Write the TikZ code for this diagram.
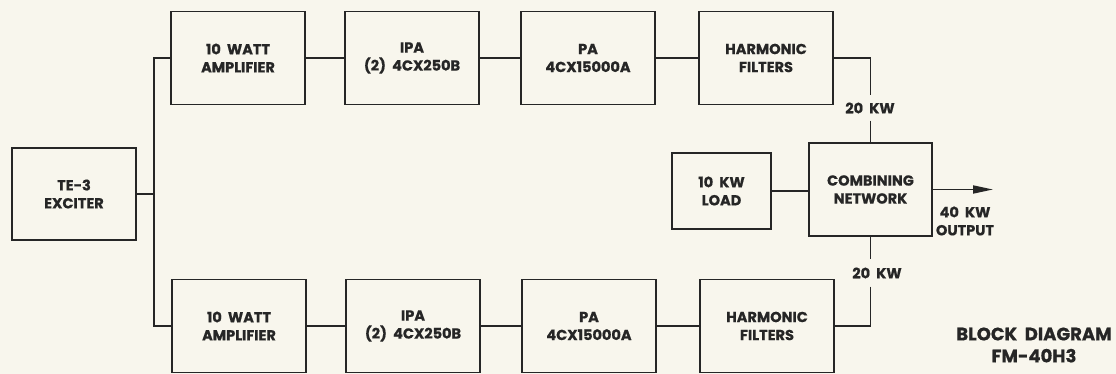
\documentclass[tikz,border=0pt]{standalone}
\usepackage{fontspec}
\setmainfont{Poppins}[BoldFeatures={FakeBold=0.8}]
\usetikzlibrary{arrows.meta,positioning}
\definecolor{paper}{RGB}{248,246,237}
\definecolor{ink}{RGB}{38,38,38}

\begin{document}
\begin{tikzpicture}[x=1pt,y=-1pt,>={Triangle[length=20pt,width=8pt]},
  blk/.style={draw=ink,line width=1.8pt,minimum width=134pt,minimum height=93pt,inner sep=0pt,align=center,text=ink,font=\fontsize{14.5}{18}\selectfont\bfseries},
  lbl/.style={text=ink,align=center,font=\fontsize{14.5}{18}\selectfont\bfseries},
  wire/.style={draw=ink,line width=1.8pt}]
  \fill[paper] (0,0) rectangle (1116,374);
  \useasboundingbox (0,0) rectangle (1116,374);
  % exciter and the two chains
  \node[blk,minimum width=124pt,minimum height=92pt] (exc) at (74,194) {TE-3\\EXCITER};
  \foreach \n/\t/\x in {amp/{10\ \ WATT\\AMPLIFIER}/238,ipa/{IPA\\(2)\ \ 4CX250B}/412,pa/{PA\\4CX15000A}/588,hf/{HARMONIC\\FILTERS}/766} {
    \node[blk] (\n1) at (\x,58) {\t}; \node[blk] (\n2) at (\x+1,326) {\t}; }
  \foreach \a/\b in {amp/ipa,ipa/pa,pa/hf} \foreach \r in {1,2} \draw[wire] (\a\r) -- (\b\r);
  \coordinate (bus) at (154,194);
  \draw[wire] (exc) -- (bus); \draw[wire] (amp1.west) -| (bus) |- (amp2.west);
  % combiner
  \node[blk,minimum width=123pt,minimum height=93pt] (comb) at (870.5,189.5) {COMBINING\\NETWORK};
  \node[blk,minimum width=99pt,minimum height=76pt] (load) at (721.5,191) {10\ \ KW\\LOAD};
  \draw[wire] (load) -- (comb.west |- load);
  \node[lbl,inner sep=7pt] (kw1) at (870,108) {20\ \ KW};
  \node[lbl,inner sep=8pt] (kw2) at (877,273) {20\ \ KW};
  \draw[wire] (hf1.east) -| (comb.north |- kw1.north); \draw[wire] (comb.north |- kw1.south) -- (comb.north);
  \draw[wire] (comb.south) -- (comb.south |- kw2.north); \draw[wire] (comb.south |- kw2.south) |- (hf2.east);
  \coordinate (out) at (993,189.5);
  \draw[wire,->] (comb) -- (out);
  \node[lbl] (okw) at (965,221) {40\ \ KW\\OUTPUT};
  \node[lbl,font=\fontsize{18}{22}\selectfont\bfseries] (title) at (1034,345) {BLOCK\ \ DIAGRAM\\FM-40H3};
\end{tikzpicture}
\end{document}
